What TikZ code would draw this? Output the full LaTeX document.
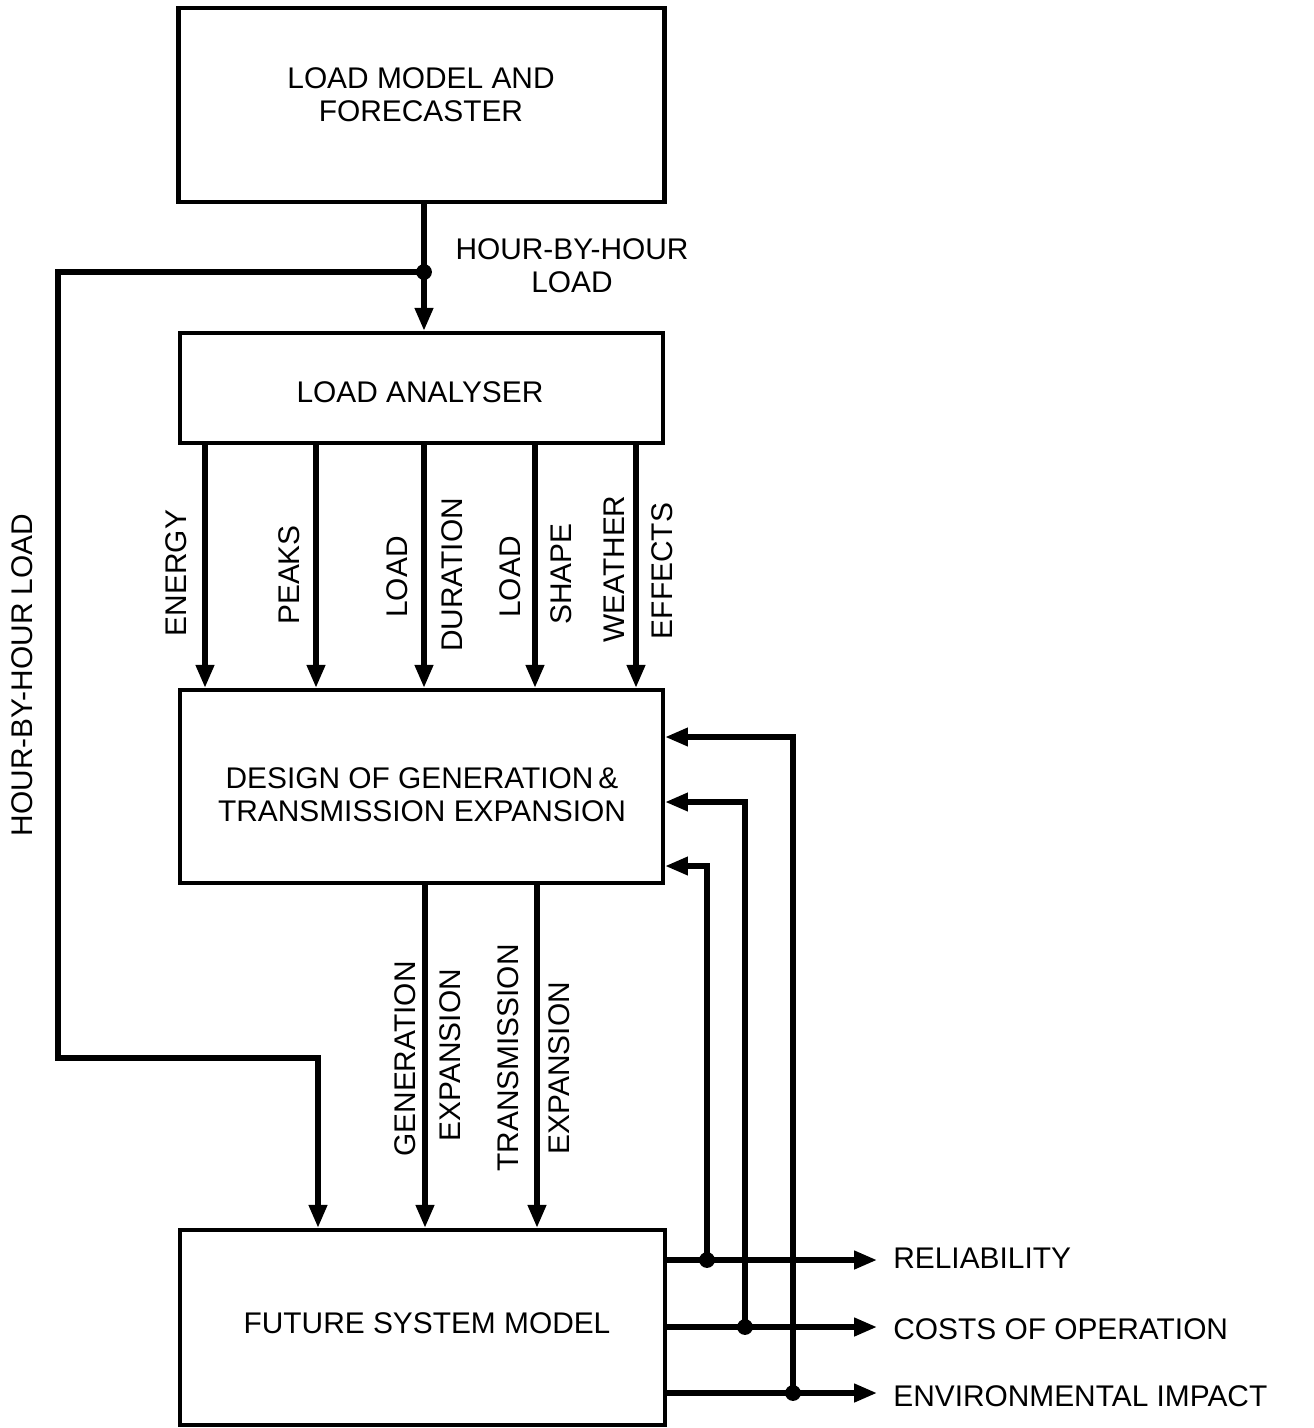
\documentclass[tikz,border=0pt]{standalone}
\usepackage{fontspec}
\setmainfont{Liberation Sans}
\usetikzlibrary{arrows.meta}
\begin{document}
\begin{tikzpicture}[x=0.02cm,y=-0.02cm,
  box/.style={draw,line width=2.5pt,inner sep=0pt},
  lbl/.style={font=\fontsize{17}{18.7}\selectfont,inner sep=0pt,align=center},
  vlbl/.style={lbl,rotate=90},
  conn/.style={line width=3pt},
  arr/.style={conn,-{Triangle[length=13pt,width=10pt]}},
  jdot/.style={circle,fill,inner sep=0pt,minimum size=9pt}]
\useasboundingbox (0,0) rectangle (1313,1428);

% boxes
\node[box,line width=2.8pt,minimum width=9.74cm,minimum height=3.88cm] (b1) at (421.5,105) {};
\node[box,minimum width=9.66cm,minimum height=2.2cm] (b2) at (421.5,388) {};
\node[box,minimum width=9.66cm,minimum height=3.86cm] (b3) at (421.5,786.5) {};
\node[box,minimum width=9.7cm,minimum height=3.9cm] (b4) at (422.5,1327.5) {};

% box texts
\node[lbl] (t1) at (421,95) {LOAD MODEL AND\\FORECASTER};
\node[lbl] (t2) at (420,392) {LOAD ANALYSER};
\node[lbl] (t3) at (422,795) {DESIGN OF GENERATION\,\&\\TRANSMISSION EXPANSION};
\node[lbl] (t4) at (427,1323) {FUTURE SYSTEM MODEL};

% load from forecaster
\coordinate (j) at (424,272);
\draw[arr] (b1.south -| j) -- (b2.north -| j);
\node[jdot] (jd) at (j) {};
\node[lbl] (hl) at (572,266) {HOUR-BY-HOUR\\LOAD};

% left loop
\coordinate (lc1) at (58,272);
\coordinate (lc2) at (58,1058);
\coordinate (lc3) at (318,1058);
\draw[arr] (j) -- (lc1) -- (lc2) -- (lc3) -- (lc3 |- b4.north);
\node[vlbl] (hl2) at (22,675) {HOUR-BY-HOUR LOAD};

% analyser outputs
\coordinate (a1) at (205,0);
\coordinate (a2) at (316,0);
\coordinate (a3) at (424,0);
\coordinate (a4) at (535,0);
\coordinate (a5) at (636,0);
\foreach \a in {a1,a2,a3,a4,a5}
  \draw[arr] (b2.south -| \a) -- (b3.north -| \a);
\node[vlbl] (l1) at (176,573) {ENERGY};
\node[vlbl] (l2) at (289,575) {PEAKS};
\node[vlbl] (l3) at (397,577) {LOAD};
\node[vlbl] (l4) at (452,575) {DURATION};
\node[vlbl] (l5) at (510,577) {LOAD};
\node[vlbl] (l6) at (561,574) {SHAPE};
\node[vlbl] (l7) at (614,569) {WEATHER};
\node[vlbl] (l8) at (662,571) {EFFECTS};

% design outputs
\coordinate (g1) at (425,0);
\coordinate (g2) at (537,0);
\draw[arr] (b3.south -| g1) -- (b4.north -| g1);
\draw[arr] (b3.south -| g2) -- (b4.north -| g2);
\node[vlbl] (m1) at (405,1059) {GENERATION};
\node[vlbl] (m2) at (450,1055) {EXPANSION};
\node[vlbl] (m3) at (508,1058) {TRANSMISSION};
\node[vlbl] (m4) at (559,1068) {EXPANSION};

% system outputs
\coordinate (r1) at (877,1260);
\coordinate (r2) at (877,1327);
\coordinate (r3) at (877,1393);
\draw[arr] (b4.east |- r1) -- (r1);
\draw[arr] (b4.east |- r2) -- (r2);
\draw[arr] (b4.east |- r3) -- (r3);
\node[lbl,anchor=west] (o1) at (893,1258) {RELIABILITY};
\node[lbl,anchor=west] (o2) at (893,1329) {COSTS OF OPERATION};
\node[lbl,anchor=west] (o3) at (893,1396) {ENVIRONMENTAL IMPACT};

% feedback
\coordinate (d1) at (707,1260);
\coordinate (d2) at (745,1327);
\coordinate (d3) at (793,1393);
\coordinate (f1) at (707,866);
\coordinate (f2) at (745,802);
\coordinate (f3) at (793,737);
\draw[arr] (d1) -- (f1) -- (f1 -| b3.east);
\draw[arr] (d2) -- (f2) -- (f2 -| b3.east);
\draw[arr] (d3) -- (f3) -- (f3 -| b3.east);
\node[jdot] (dd1) at (d1) {};
\node[jdot] (dd2) at (d2) {};
\node[jdot] (dd3) at (d3) {};
\end{tikzpicture}
\end{document}
